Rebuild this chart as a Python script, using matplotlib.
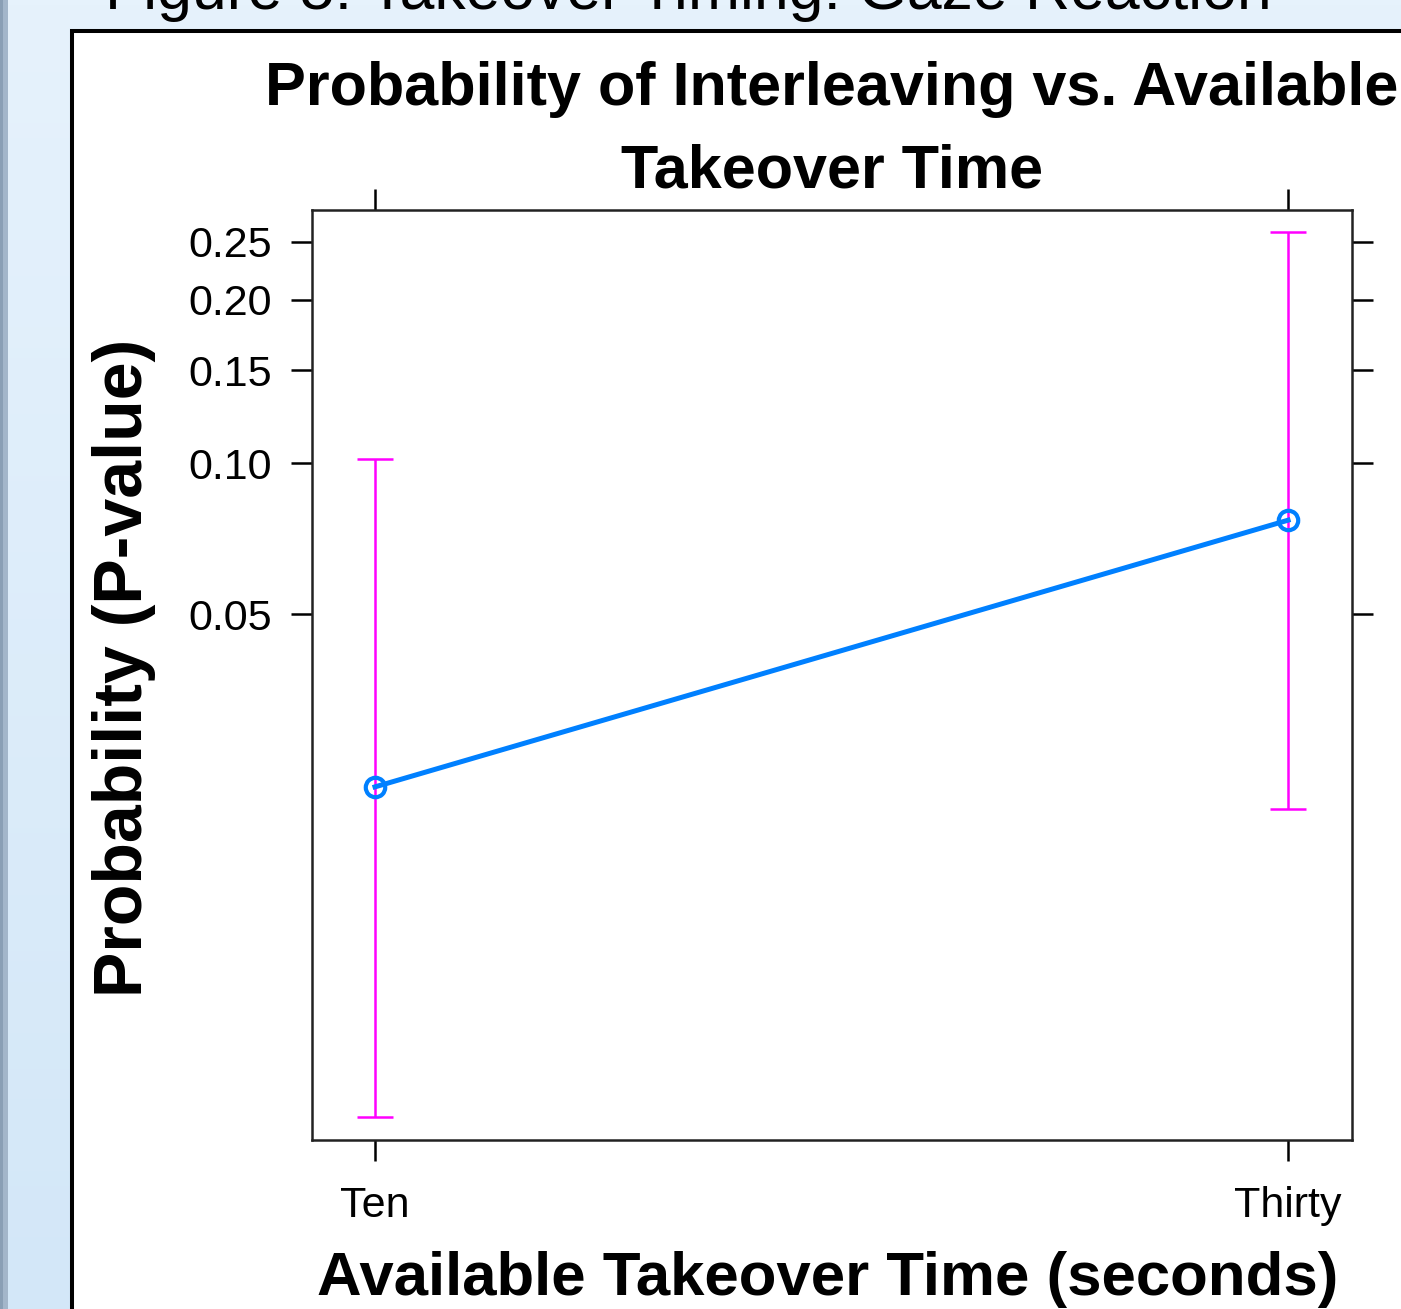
import numpy as np
import matplotlib
matplotlib.use('Agg')
import matplotlib.pyplot as plt
from matplotlib.patches import Rectangle

plt.rcParams['font.family'] = ['Liberation Sans', 'DejaVu Sans']

categories = ['Ten', 'Thirty']
fit = [0.0219, 0.0774]
lower = [0.00435, 0.0197]
upper = [0.1018, 0.259]
yticks = [0.05, 0.10, 0.15, 0.20, 0.25]
ytick_labels = ['0.05', '0.10', '0.15', '0.20', '0.25']

W, H = 1401, 1309
fig = plt.figure(figsize=(W / 100, H / 100), dpi=100)
fig.patch.set_facecolor('#dcecf9')

# poster background: light blue gradient, grey strip at the left edge
bg = fig.add_axes([0, 0, 1, 1], zorder=0)
grad = np.linspace(0, 1, 256).reshape(-1, 1)
top_c = np.array([0xe6, 0xf2, 0xfc]) / 255
bot_c = np.array([0xd3, 0xe7, 0xf8]) / 255
img = top_c + (bot_c - top_c) * grad
bg.imshow(img.reshape(256, 1, 3), extent=[0, W, H, 0], aspect='auto')
bg.add_patch(Rectangle((0, 0), 8, H, facecolor='#a3b6ca', edgecolor='none'))
bg.add_patch(Rectangle((0, 0), 3, H, facecolor='#8a9fb5', edgecolor='none'))
bg.add_patch(Rectangle((72, 31), W, H, facecolor='white', edgecolor='black',
                       linewidth=2.9))
bg.set_xlim(0, W)
bg.set_ylim(H, 0)
bg.axis('off')

bg.text(105, 9, 'Figure 5: Takeover Timing: Gaze Reaction', fontsize=45,
        ha='left', va='baseline', color='black')

ax = fig.add_axes([312 / W, 1 - 1140 / H, 1040 / W, 930 / H], zorder=1)
x = np.arange(1, len(categories) + 1)
yerr = [np.array(fit) - np.array(lower), np.array(upper) - np.array(fit)]
ax.errorbar(x, fit, yerr=yerr, fmt='none', ecolor='#ff00ff', elinewidth=1.8,
            capsize=13, capthick=1.8, zorder=2)
ax.plot(x, fit, color='#0080ff', linewidth=3.6, marker='o', markersize=14,
        markerfacecolor='none', markeredgewidth=3, zorder=3)

ax.set_yscale('logit')
ax.set_ylim(0.00388, 0.2805)
ax.set_xlim(0.931, 2.070)
ax.set_yticks(yticks)
ax.set_yticklabels(ytick_labels)
ax.yaxis.set_minor_locator(matplotlib.ticker.NullLocator())
ax.yaxis.set_minor_formatter(matplotlib.ticker.NullFormatter())
ax.set_xticks(x)
ax.set_xticklabels(categories)
ax.tick_params(axis='both', direction='out', length=15, width=1.8,
               labelsize=31, colors='black')
ax.tick_params(axis='y', pad=14, right=True, labelright=False)
ax.tick_params(axis='x', pad=18, top=True, labeltop=False)
for s in ax.spines.values():
    s.set_linewidth(1.8)
    s.set_color('#222222')

cx = 832 / W
fig.text(cx, 1 - 105 / H, 'Probability of Interleaving vs. Available',
         fontsize=44, fontweight='bold', ha='center', va='baseline')
fig.text(cx, 1 - 188 / H, 'Takeover Time', fontsize=44, fontweight='bold',
         ha='center', va='baseline')
fig.text(828 / W, 1 - 1295 / H, 'Available Takeover Time (seconds)',
         fontsize=44.5, fontweight='bold', ha='center', va='baseline')
fig.text(124 / W, 1 - 668 / H, 'Probability (P-value)', fontsize=49,
         fontweight='bold', rotation=90, ha='center', va='center')

fig.savefig('out.png', dpi=100)
